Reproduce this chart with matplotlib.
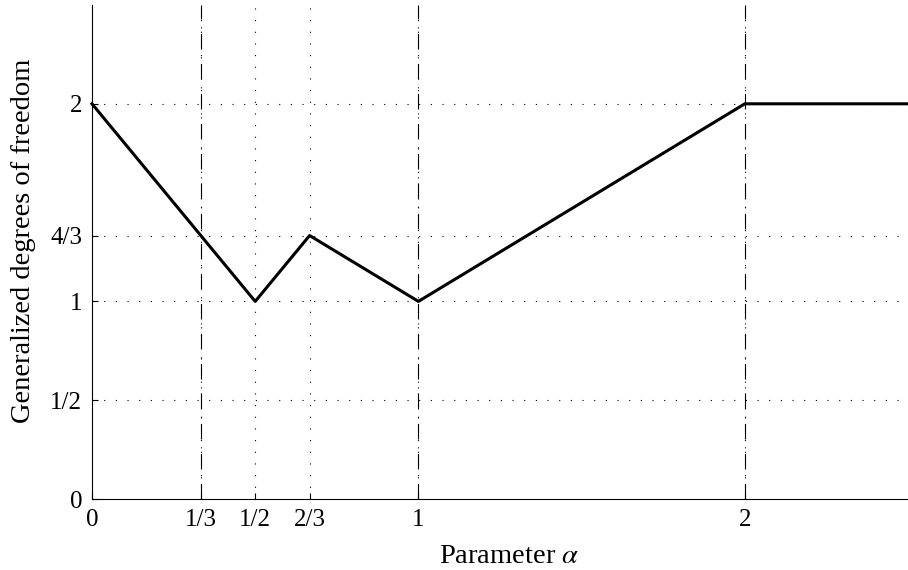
import matplotlib
matplotlib.use('Agg')
import matplotlib.pyplot as plt

# piecewise-linear GDoF curve
alpha = [0, 1/3, 1/2, 2/3, 1, 2, 2.5]
gdof = [2, 4/3, 1, 4/3, 1, 2, 2]

x_ticks = [0, 1/3, 1/2, 2/3, 1, 2]
x_labels = ['0', '1/3', '1/2', '2/3', '1', '2']
y_ticks = [0, 1/2, 1, 4/3, 2]
y_labels = ['0', '1/2', '1', '4/3', '2']
breakpoints = [1/3, 1, 2]

plt.rcParams['font.family'] = ['Liberation Serif', 'DejaVu Serif']
plt.rcParams['mathtext.fontset'] = 'stix'

fig = plt.figure(figsize=(9.08, 5.70), dpi=100)
ax = fig.add_axes([92/908, 71/570, 816/908, 494/570])

# dotted grid at the tick positions
dotted = (0, (1, 9.5))
for x in x_ticks[1:]:
    ax.axvline(x, color='black', lw=0.8, linestyle=dotted, zorder=1)
for y in y_ticks[1:]:
    ax.axhline(y, color='black', lw=0.8, linestyle=dotted, zorder=1)

# dash-dot markers at the corner points
for x in breakpoints:
    ax.axvline(x, color='black', lw=0.8, linestyle=(0, (14, 5, 1, 7)), zorder=2)

ax.plot(alpha, gdof, color='black', lw=2.2, zorder=3, clip_on=False)

ax.set_xlim(0, 2.5)
ax.set_ylim(0, 2.5)
ax.set_xticks(x_ticks)
ax.set_xticklabels(x_labels)
ax.set_yticks(y_ticks)
ax.set_yticklabels(y_labels)
ax.tick_params(direction='in', length=4, labelsize=18)
ax.tick_params(axis='x', pad=7)
ax.tick_params(axis='y', pad=7)
ax.spines['top'].set_visible(False)
ax.spines['right'].set_visible(False)

ax.set_xlabel(r'Parameter $\alpha$', fontsize=20.5)
ax.set_ylabel('Generalized degrees of freedom', fontsize=20.5)
ax.xaxis.set_label_coords(0.511, -0.092)
ax.yaxis.set_label_coords(-0.0686, 0.522)

fig.savefig('out.png', dpi=100)
